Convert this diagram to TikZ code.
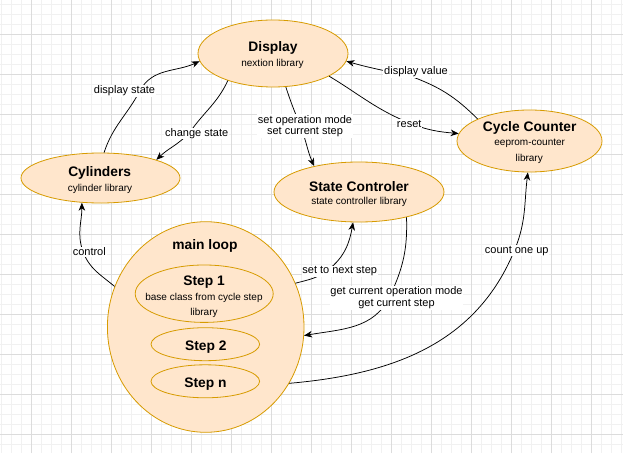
\documentclass[tikz,border=0pt]{standalone}
\usepackage{fontspec}
\setmainfont{Liberation Sans}
\usetikzlibrary{arrows.meta,shapes.geometric}
\definecolor{fillc}{HTML}{FFE6CC}
\definecolor{strokec}{HTML}{D79B00}
\definecolor{gridminor}{HTML}{F1F1F1}
\definecolor{gridmajor}{HTML}{DCDCDC}
\newcommand\mytitlefont{\fontsize{13.8}{16}\selectfont\bfseries}
\newcommand\mysubfont{\fontsize{10}{12}\selectfont}
\newcommand\mylabelfont{\fontsize{11}{11.8}\selectfont}
\begin{document}
\begin{tikzpicture}[x=1pt,y=1pt,
  ell/.style={ellipse, draw=strokec, fill=fillc, line width=0.8pt, inner sep=0pt},
  ttl/.style={inner sep=0pt, anchor=base, font=\mytitlefont},
  subt/.style={inner sep=0pt, anchor=base, font=\mysubfont},
  lbl/.style={fill=white, inner sep=0.8pt, anchor=base, font=\mylabelfont, align=center},
  lbltwo/.style={fill=white, inner sep=0.8pt, anchor=north, font=\mylabelfont, align=center},
  conn/.style={draw=black, line width=0.75pt, -{Stealth[length=8pt,width=6.5pt,inset=2.4pt]}}
]
\useasboundingbox (0,0) rectangle (623,453);
\fill[white] (0,0) rectangle (623,453);
% grid
\foreach \i in {0,...,62} { \draw[gridminor, line width=0.6pt] (1.7+10*\i,0) -- (1.7+10*\i,453); }
\foreach \j in {0,...,45} { \draw[gridminor, line width=0.6pt] (0,8.7+10*\j) -- (623,8.7+10*\j); }
\foreach \i in {0,...,15} { \draw[gridmajor, line width=0.6pt] (31.7+40*\i,0) -- (31.7+40*\i,453); }
\foreach \j in {0,...,11} { \draw[gridmajor, line width=0.6pt] (0,18.7+40*\j) -- (623,18.7+40*\j); }

% ellipses
\node[ell, minimum width=150pt, minimum height=67pt] (disp) at (273,399.5) {};
\node[ell, minimum width=159pt, minimum height=50pt] (cyl) at (100.5,275) {};
\node[ell, minimum width=170pt, minimum height=60pt] (sc) at (359,261) {};
\node[ell, minimum width=145pt, minimum height=62pt] (cc) at (529.5,312) {};
\node[ell, minimum width=196.6pt, minimum height=210.6pt] (ml) at (205.7,126) {};
\node[ell, minimum width=138pt, minimum height=57.4pt] (s1) at (204.2,159.3) {};
\node[ell, minimum width=108.6pt, minimum height=33pt] (s2) at (205.3,108.8) {};
\node[ell, minimum width=108.6pt, minimum height=33pt] (sn) at (205.3,71.7) {};

% texts
\node[ttl] (dispT) at (273,401) {Display};
\node[subt] (dispS) at (272.5,386) {nextion library};
\node[ttl] (cylT) at (99.7,276.5) {Cylinders};
\node[subt] (cylS) at (100,261.5) {cylinder library};
\node[ttl] (scT) at (359,261.5) {State Controler};
\node[subt] (scS) at (359.2,248) {state controller library};
\node[ttl] (ccT) at (529.7,321.5) {Cycle Counter};
\node[subt] (ccS) at (529.7,307.5) {eeprom-counter};
\node[subt] (ccS2) at (529.2,291.5) {library};
\node[ttl] (mlT) at (205,204) {main loop};
\node[ttl] (s1T) at (204,168) {Step 1};
\node[subt] (s1S) at (204,153) {base class from cycle step};
\node[subt] (s1S2) at (204,137.3) {library};
\node[ttl] (s2T) at (205.8,102.3) {Step 2};
\node[ttl] (snT) at (205.5,65.7) {Step n};

% waypoints
\coordinate (w1) at (140,362.3);
\coordinate (w2) at (190,321);
\coordinate (w3) at (300,328);
\coordinate (w4) at (409.5,330);
\coordinate (w5) at (410,377);
\coordinate (w6) at (83,201.5);
\coordinate (w7) at (328,183);
\coordinate (w8) at (390,157);
\coordinate (w9) at (515,204);

% connectors
\draw[conn] (cyl.82) to[out=72,in=-118] (w1) to[out=62,in=205] (disp.186);
\draw[conn] (disp.211) to[out=245,in=55] (w2) to[out=228,in=44] (cyl.18);
\draw[conn] (disp.291) to[out=-72,in=112] (w3) to[out=-68,in=114] (sc.150);
\draw[conn] (disp.-22) to[out=-31,in=158] (w4) to[out=-22,in=175] (cc.174);
\draw[conn] (cc.157) to[out=135,in=-20] (w5) to[out=168,in=-16] (disp.-6);
\draw[conn] (ml.156) to[out=140,in=-70] (w6) to[out=110,in=-90] (cyl.233);
\draw[conn] (ml.26) to[out=15,in=-142] (w7) to[out=38,in=-100] (sc.259);
\draw[conn] (sc.-28) to[out=-88,in=65] (w8) to[out=245,in=10] (ml.-5);
\draw[conn] (ml.-34) to[out=5,in=-112] (w9) to[out=68,in=-97] (cc.-93);

% labels
\node[lbl] (l1) at (124.5,359) {display state};
\node[lbl] (l2) at (196.7,316.7) {change state};
\node[lbltwo] (l3) at (305,338.8) {set operation mode\\set current step};
\node[lbl] (l4) at (409.2,325.7) {reset};
\node[lbl] (l5) at (416,378.3) {display value};
\node[lbl] (l6) at (89.3,197.3) {control};
\node[lbl] (l7) at (339.7,179.3) {set to next step};
\node[lbltwo] (l8) at (396.5,167.1) {get current operation mode\\get current step};
\node[lbl] (l9) at (516.7,200) {count one up};
\end{tikzpicture}
\end{document}
